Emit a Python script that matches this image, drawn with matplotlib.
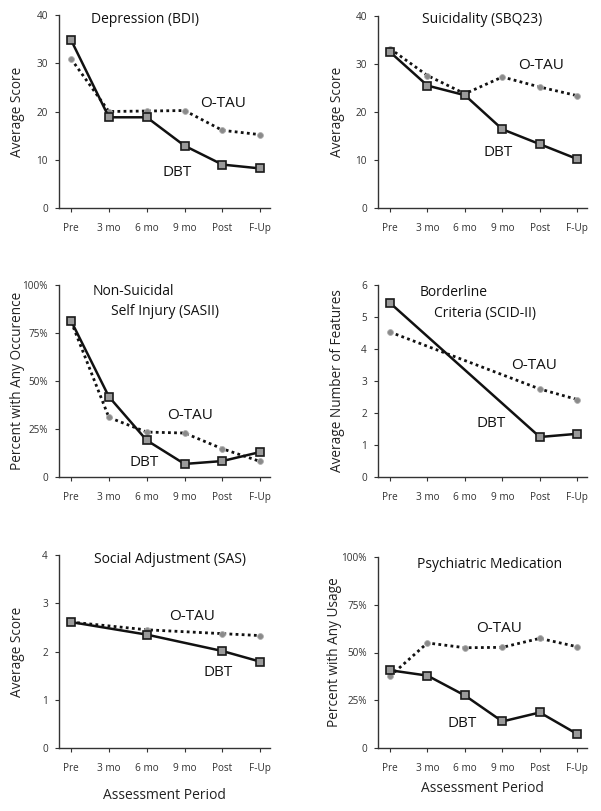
import numpy as np
import matplotlib
matplotlib.use("Agg")
import matplotlib.pyplot as plt
from matplotlib.ticker import FixedLocator, FixedFormatter

plt.rcParams['font.family'] = ['Open Sans', 'DejaVu Sans']

periods = ["Pre", "3 mo", "6 mo", "9 mo", "Post", "F-Up"]
nan = np.nan

dep_dbt = [34.8, 18.8, 18.8, 12.9, 9.0, 8.2]
dep_tau = [30.9, 20.0, 20.1, 20.2, 16.1, 15.2]

sui_dbt = [32.5, 25.5, 23.5, 16.4, 13.3, 10.2]
sui_tau = [33.2, 27.6, 23.8, 27.3, 25.2, 23.4]

nssi_dbt = [81.3, 41.8, 19.1, 6.8, 8.3, 13.0]
nssi_tau = [81.0, 31.0, 23.4, 22.9, 14.7, 8.1]

bpd_dbt = [5.44, nan, nan, nan, 1.25, 1.35]
bpd_tau = [4.53, nan, nan, nan, 2.75, 2.42]

sas_dbt = [2.61, nan, 2.35, nan, 2.01, 1.79]
sas_tau = [2.61, nan, 2.45, nan, 2.37, 2.33]

med_dbt = [40.7, 37.9, 27.5, 13.9, 18.6, 7.3]
med_tau = [37.6, 55.0, 52.5, 52.7, 57.4, 53.0]

W, H = 601, 811
fig = plt.figure(figsize=(W / 100, H / 100), dpi=100)


def axes_px(left, top, right, bottom):
    return fig.add_axes([left / W, 1 - bottom / H, (right - left) / W, (bottom - top) / H])


def draw(ax, dbt, tau, ymax, yticks, yticklabels, ylabel, ylabel_x, titles, otau_pos, dbt_pos,
         xlabel=None, xlabelpad=8):
    x = np.arange(len(periods))
    t = np.array(tau, dtype=float)
    d = np.array(dbt, dtype=float)
    mt = ~np.isnan(t)
    md = ~np.isnan(d)
    ax.plot(x[mt], t[mt], linestyle=(0, (1.0, 1.2)), color='#111111', lw=2.0, zorder=2)
    ax.plot(x[mt], t[mt], linestyle='none', marker='o', ms=4.2, mfc='#8a8a8a', mec='#b0b0b0',
            mew=0.6, zorder=3)
    ax.plot(x[md], d[md], '-', color='#111111', lw=1.8, zorder=4)
    ax.plot(x[md], d[md], linestyle='none', marker='s', ms=5.6, mfc='#9a9a9a', mec='#1a1a1a',
            mew=1.2, zorder=5)
    ax.set_xlim(-0.32, 5.26)
    ax.set_ylim(0, ymax)
    ax.xaxis.set_major_locator(FixedLocator(x))
    ax.xaxis.set_major_formatter(FixedFormatter(periods))
    ax.yaxis.set_major_locator(FixedLocator(yticks))
    ax.yaxis.set_major_formatter(FixedFormatter(yticklabels))
    for s in ['top', 'right']:
        ax.spines[s].set_visible(False)
    for s in ['left', 'bottom']:
        ax.spines[s].set_color('#333333')
        ax.spines[s].set_linewidth(1.0)
    ax.tick_params(axis='x', length=3, width=0.8, color='#333333', pad=8,
                   labelsize=7.2, labelcolor='#333333')
    ax.tick_params(axis='y', length=3, width=0.8, color='#333333', pad=5,
                   labelsize=7.2, labelcolor='#333333')
    ax.set_ylabel(ylabel, fontsize=9.8, color='#222222')
    ax.yaxis.set_label_coords(ylabel_x, 0.5)
    for (tx, ty, s) in titles:
        ax.text(tx, ty, s, fontsize=10, color='#111111', ha='left', va='center')
    ax.text(otau_pos[0], otau_pos[1], "O-TAU", fontsize=11, color='#111111', ha='left', va='center')
    ax.text(dbt_pos[0], dbt_pos[1], "DBT", fontsize=11, color='#111111', ha='left', va='center')
    if xlabel:
        ax.set_xlabel(xlabel, fontsize=10, color='#222222', labelpad=xlabelpad)
    ax.patch.set_alpha(0)


ax1 = axes_px(59, 15, 270, 208)
draw(ax1, dep_dbt, dep_tau, 40, [0, 10, 20, 30, 40], ["0", "10", "20", "30", "40"],
     "Average Score", -0.161, [(0.53, 39.0, "Depression (BDI)")], (3.41, 21.6), (2.43, 7.3))

ax2 = axes_px(378, 16, 587, 208)
draw(ax2, sui_dbt, sui_tau, 40, [0, 10, 20, 30, 40], ["0", "10", "20", "30", "40"],
     "Average Score", -0.158, [(0.85, 39.2, "Suicidality (SBQ23)")], (3.41, 29.7), (2.49, 11.6))

ax3 = axes_px(59, 285, 270, 477)
draw(ax3, nssi_dbt, nssi_tau, 100, [0, 25, 50, 75, 100], ["0", "25%", "50%", "75%", "100%"],
     "Percent with Any Occurence", -0.161,
     [(0.58, 96.5, "Non-Suicidal"), (1.06, 86.1, "Self Injury (SASII)")], (2.53, 32.1), (1.54, 7.3))

ax4 = axes_px(378, 285, 587, 477)
draw(ax4, bpd_dbt, bpd_tau, 6, [0, 1, 2, 3, 4, 5, 6], ["0", "1", "2", "3", "4", "5", "6"],
     "Average Number of Features", -0.158,
     [(0.80, 5.76, "Borderline"), (1.17, 5.11, "Criteria (SCID-II)")], (3.23, 3.48), (2.30, 1.66))

ax5 = axes_px(59, 555, 270, 748)
draw(ax5, sas_dbt, sas_tau, 4, [0, 1, 2, 3, 4], ["0", "1", "2", "3", "4"],
     "Average Score", -0.161, [(0.6, 3.9, "Social Adjustment (SAS)")], (2.6, 2.72), (3.5, 1.57),
     xlabel="Assessment Period", xlabelpad=10)

ax6 = axes_px(378, 557, 587, 748)
draw(ax6, med_dbt, med_tau, 100, [0, 25, 50, 75, 100], ["0", "25%", "50%", "75%", "100%"],
     "Percent with Any Usage", -0.172, [(0.72, 96.2, "Psychiatric Medication")], (2.29, 62.6), (1.54, 12.7),
     xlabel="Assessment Period", xlabelpad=5)

fig.savefig("out.png", dpi=100, facecolor='white')
